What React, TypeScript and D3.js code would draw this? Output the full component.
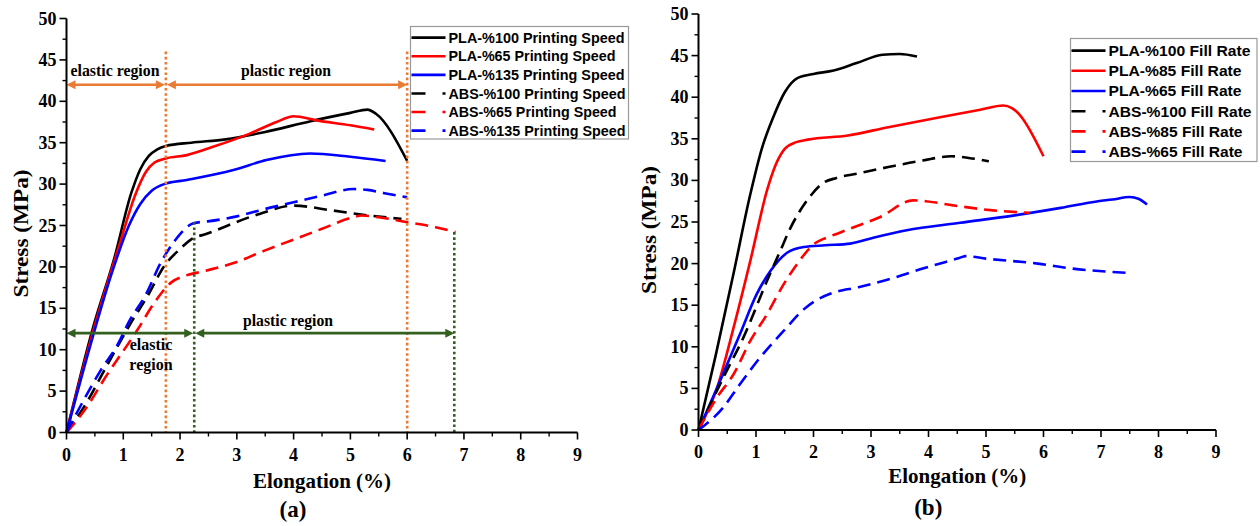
import React from "react";
import * as d3 from "d3";

// ---------- data ----------
const X_TICKS = [0, 1, 2, 3, 4, 5, 6, 7, 8, 9];
const Y_TICKS = [0, 5, 10, 15, 20, 25, 30, 35, 40, 45, 50];

const SPEED_LABELS = [
  "PLA-%100 Printing Speed",
  "PLA-%65 Printing Speed",
  "PLA-%135 Printing Speed",
  "ABS-%100 Printing Speed",
  "ABS-%65 Printing Speed",
  "ABS-%135 Printing Speed",
];
const FILL_LABELS = [
  "PLA-%100 Fill Rate",
  "PLA-%85 Fill Rate",
  "PLA-%65 Fill Rate",
  "ABS-%100 Fill Rate",
  "ABS-%85 Fill Rate",
  "ABS-%65 Fill Rate",
];
const SERIES_COLORS = ["#000000", "#ff0000", "#0000ff", "#000000", "#ff0000", "#0000ff"];
const SERIES_DASHED = [false, false, false, true, true, true];

// (a) printing speed
const PLA100_PS_X = [0, 0.46, 0.84, 1.14, 1.3, 1.45, 1.6, 1.75, 2.2, 2.8, 3.5, 4.3, 5.0, 5.3, 5.45, 6.0];
const PLA100_PS_Y = [0, 12.5, 21, 28.9, 31.8, 33.4, 34.2, 34.6, 35.0, 35.4, 36.3, 37.6, 38.6, 39.0, 38.5, 32.8];
const PLA65_PS_X = [0, 0.46, 0.96, 1.2, 1.4, 1.55, 1.75, 2.12, 2.58, 3.23, 3.7, 4.0, 4.4, 5.0, 5.42];
const PLA65_PS_Y = [0, 12, 23.3, 28.5, 31.5, 32.6, 33.1, 33.5, 34.5, 36.1, 37.5, 38.2, 37.7, 37.1, 36.6];
const PLA135_PS_X = [0, 0.46, 0.8, 1.1, 1.3, 1.5, 1.72, 2.12, 2.94, 3.52, 4.29, 5.0, 5.62];
const PLA135_PS_Y = [0, 11.5, 19.3, 25, 27.6, 29.2, 30, 30.5, 31.7, 32.9, 33.7, 33.3, 32.8];
const ABS100_PS_X = [0, 0.37, 0.61, 1.14, 1.43, 1.72, 1.99, 2.19, 2.47, 3.4, 3.99, 4.7, 5.34, 5.9];
const ABS100_PS_Y = [0, 3.8, 6.8, 13.3, 16.5, 20.1, 22.1, 23.3, 24.0, 26.4, 27.4, 26.8, 26.2, 25.8];
const ABS65_PS_X = [0, 0.37, 0.66, 1.25, 1.55, 1.84, 2.08, 2.43, 3.0, 3.5, 4.0, 4.5, 5.0, 5.2, 5.5, 6.0, 6.5, 6.85];
const ABS65_PS_Y = [0, 3.2, 6.4, 12.4, 15.7, 18.1, 18.9, 19.5, 20.6, 22.0, 23.3, 24.6, 25.9, 26.2, 26.0, 25.4, 24.8, 24.2];
const ABS135_PS_X = [0, 0.31, 0.61, 0.9, 1.11, 1.4, 1.66, 1.9, 2.25, 2.49, 3.0, 3.5, 4.0, 4.5, 5.05, 5.3, 5.6, 6.0];
const ABS135_PS_Y = [0, 4, 7.6, 10.6, 13.5, 16.7, 20.5, 23.1, 25.3, 25.5, 26.1, 27.0, 27.8, 28.6, 29.4, 29.3, 28.9, 28.4];

// (b) fill rate
const PLA100_FR_X = [0, 0.3, 0.6, 0.9, 1.1, 1.3, 1.5, 1.72, 2.0, 2.35, 2.75, 3.2, 3.5, 3.8];
const PLA100_FR_Y = [0, 9, 18.5, 28.3, 33.8, 37.6, 40.6, 42.3, 42.8, 43.2, 44.1, 45.1, 45.2, 44.9];
const PLA85_FR_X = [0, 0.32, 0.61, 0.9, 1.2, 1.35, 1.5, 1.7, 1.9, 2.6, 3.3, 4.2, 4.9, 5.3, 5.45, 6.0];
const PLA85_FR_Y = [0, 5, 12.3, 20.3, 29, 32, 33.8, 34.6, 34.9, 35.4, 36.4, 37.6, 38.5, 39.0, 38.7, 32.9];
const PLA65_FR_X = [0, 0.32, 0.72, 1.01, 1.25, 1.54, 1.83, 2.2, 2.64, 3.04, 3.62, 4.55, 5.5, 6.3, 6.95, 7.2, 7.5, 7.65, 7.8];
const PLA65_FR_Y = [0, 5, 11.5, 16.3, 19.1, 21.3, 22, 22.2, 22.4, 23.1, 24.0, 24.9, 25.8, 26.7, 27.5, 27.7, 28.0, 27.8, 27.1];
const ABS100_FR_X = [0, 0.2, 0.49, 0.78, 1.19, 1.42, 1.6, 1.9, 2.15, 2.4, 2.75, 3.3, 3.9, 4.4, 4.7, 5.05];
const ABS100_FR_Y = [0, 3, 7.1, 11.1, 17.9, 21.5, 24.3, 27.7, 29.6, 30.3, 30.8, 31.6, 32.4, 32.9, 32.7, 32.3];
const ABS85_FR_X = [0, 0.32, 0.61, 0.9, 1.19, 1.48, 1.71, 2.0, 2.3, 2.6, 3.16, 3.73, 3.95, 4.43, 5.12, 5.76];
const ABS85_FR_Y = [0, 3.9, 6.7, 10.7, 13.9, 17.5, 19.9, 22.3, 23.3, 24.1, 25.6, 27.6, 27.5, 27.0, 26.4, 26.1];
const ABS65_FR_X = [0, 0.43, 0.72, 1.07, 1.48, 1.83, 2.05, 2.3, 2.8, 3.4, 3.9, 4.5, 4.65, 5.0, 5.9, 6.5, 7.45];
const ABS65_FR_Y = [0, 2.7, 5.5, 8.7, 11.9, 14.5, 15.6, 16.4, 17.2, 18.3, 19.4, 20.6, 20.9, 20.6, 20.0, 19.4, 18.9];

// region annotations for (a): [elastic end, plastic end], arrow level
const PLA_REGION_X = [1.75, 6.0];
const PLA_REGION_LEVEL = 42;
const PLA_REGION_TOP = 46;
const ABS_REGION_X = [2.25, 6.83];
const ABS_REGION_TOP = [25.4, 24.2];
const ABS_REGION_LEVEL = 12;

const ORANGE = "#E97B35";
const GREEN = "#33601F";
const SERIF = "'Times New Roman', 'Liberation Serif', Times, serif";
const SANS = "Arial, 'Liberation Sans', Helvetica, sans-serif";

type Series = { xs: number[]; ys: number[] };

const SPEED_SERIES: Series[] = [
  { xs: PLA100_PS_X, ys: PLA100_PS_Y },
  { xs: PLA65_PS_X, ys: PLA65_PS_Y },
  { xs: PLA135_PS_X, ys: PLA135_PS_Y },
  { xs: ABS100_PS_X, ys: ABS100_PS_Y },
  { xs: ABS65_PS_X, ys: ABS65_PS_Y },
  { xs: ABS135_PS_X, ys: ABS135_PS_Y },
];
const FILL_SERIES: Series[] = [
  { xs: PLA100_FR_X, ys: PLA100_FR_Y },
  { xs: PLA85_FR_X, ys: PLA85_FR_Y },
  { xs: PLA65_FR_X, ys: PLA65_FR_Y },
  { xs: ABS100_FR_X, ys: ABS100_FR_Y },
  { xs: ABS85_FR_X, ys: ABS85_FR_Y },
  { xs: ABS65_FR_X, ys: ABS65_FR_Y },
];

type PanelProps = {
  x0: number;
  x1: number;
  y0: number;
  y1: number;
  series: Series[];
  labels: string[];
  legend: { x: number; y: number; w: number; h: number; row: number; font: number; textW: number[] };
  yTitleX: number;
  xTitleY: number;
  tag: string;
  tagY: number;
  children?: (x: d3.ScaleLinear<number, number>, y: d3.ScaleLinear<number, number>) => React.ReactNode;
};

function Panel(p: PanelProps) {
  const x = d3.scaleLinear().domain([0, 9]).range([p.x0, p.x1]);
  const y = d3.scaleLinear().domain([0, 50]).range([p.y0, p.y1]);
  const line = d3
    .line<[number, number]>()
    .x((d) => x(d[0]))
    .y((d) => y(d[1]))
    .curve(d3.curveMonotoneX);
  const minorX = d3.range(0.5, 9, 1);
  const minorY = d3.range(2.5, 50, 5);
  const midX = (p.x0 + p.x1) / 2;
  const midY = (p.y0 + p.y1) / 2;
  return (
    <g>
      {/* curves */}
      {p.series.map((s, i) => (
        <path
          key={i}
          d={line(s.xs.map((v, k) => [v, s.ys[k]] as [number, number])) || ""}
          fill="none"
          stroke={SERIES_COLORS[i]}
          strokeWidth={2.6}
          strokeDasharray={SERIES_DASHED[i] ? "13,7" : undefined}
          strokeLinejoin="round"
        />
      ))}
      {p.children && p.children(x, y)}
      {/* axes */}
      <line x1={x(0)} x2={x(9)} y1={y(0)} y2={y(0)} stroke="#000" strokeWidth={2} />
      <line x1={x(0)} x2={x(0)} y1={y(0)} y2={y(50)} stroke="#000" strokeWidth={2} />
      {X_TICKS.map((t) => (
        <g key={"xt" + t}>
          <line x1={x(t)} x2={x(t)} y1={y(0)} y2={y(0) + 7} stroke="#000" strokeWidth={1.6} />
          <text x={x(t)} y={y(0) + 28} textAnchor="middle" fontFamily={SERIF} fontWeight="bold" fontSize={18}>
            {t}
          </text>
        </g>
      ))}
      {minorX.map((t) => (
        <line key={"xm" + t} x1={x(t)} x2={x(t)} y1={y(0)} y2={y(0) + 4} stroke="#000" strokeWidth={1.4} />
      ))}
      {Y_TICKS.map((t) => (
        <g key={"yt" + t}>
          <line x1={x(0)} x2={x(0) - 7} y1={y(t)} y2={y(t)} stroke="#000" strokeWidth={1.6} />
          <text x={x(0) - 10} y={y(t) + 6} textAnchor="end" fontFamily={SERIF} fontWeight="bold" fontSize={18}>
            {t}
          </text>
        </g>
      ))}
      {minorY.map((t) => (
        <line key={"ym" + t} x1={x(0)} x2={x(0) - 4} y1={y(t)} y2={y(t)} stroke="#000" strokeWidth={1.4} />
      ))}
      {/* titles */}
      <text
        x={midX}
        y={p.xTitleY}
        textAnchor="middle"
        fontFamily={SERIF}
        fontWeight="bold"
        fontSize={21}
        textLength={138}
        lengthAdjust="spacingAndGlyphs"
      >
        Elongation (%)
      </text>
      <text
        transform={`translate(${p.yTitleX},${midY + 8}) rotate(-90)`}
        textAnchor="middle"
        fontFamily={SERIF}
        fontWeight="bold"
        fontSize={21}
        textLength={128}
        lengthAdjust="spacingAndGlyphs"
      >
        Stress (MPa)
      </text>
      <text x={midX - 29} y={p.tagY} textAnchor="middle" fontFamily={SERIF} fontWeight="bold" fontSize={23}>
        {p.tag}
      </text>
      {/* legend */}
      <rect
        x={p.legend.x}
        y={p.legend.y}
        width={p.legend.w}
        height={p.legend.h}
        fill="#fff"
        stroke="#999"
        strokeWidth={1.2}
      />
      {p.labels.map((lab, i) => {
        const cy = p.legend.y + p.legend.row * (i + 0.6);
        return (
          <g key={lab}>
            <line
              x1={p.legend.x + 1}
              x2={p.legend.x + 35}
              y1={cy}
              y2={cy}
              stroke={SERIES_COLORS[i]}
              strokeWidth={2.6}
              strokeDasharray={SERIES_DASHED[i] ? "14,17" : undefined}
            />
            <text
              x={p.legend.x + 38}
              y={cy + p.legend.font * 0.36}
              fontFamily={SANS}
              fontWeight="bold"
              fontSize={p.legend.font}
              textLength={p.legend.textW[i]}
              lengthAdjust="spacingAndGlyphs"
            >
              {lab}
            </text>
          </g>
        );
      })}
    </g>
  );
}

function Arrow({ xa, xb, yv, color }: { xa: number; xb: number; yv: number; color: string }) {
  const h = 9;
  const w = 4.5;
  return (
    <g>
      <line x1={xa + 4} x2={xb - 4} y1={yv} y2={yv} stroke={color} strokeWidth={2.6} />
      <path d={`M${xa},${yv} L${xa + h},${yv - w} L${xa + h},${yv + w} Z`} fill={color} />
      <path d={`M${xb},${yv} L${xb - h},${yv - w} L${xb - h},${yv + w} Z`} fill={color} />
    </g>
  );
}

export default function App() {
  return (
    <svg width={1260} height={526} style={{ position: "absolute", left: 0, top: 0, background: "#fff" }}>
      <rect x={0} y={0} width={1260} height={526} fill="#fff" />
      <Panel
        x0={66.5}
        x1={577.5}
        y0={432.5}
        y1={18.5}
        series={SPEED_SERIES}
        labels={SPEED_LABELS}
        legend={{ x: 410.5, y: 26.5, w: 218, h: 112.5, row: 18.6, font: 14, textW: [176, 167, 176, 177, 168, 177] }}
        yTitleX={28}
        xTitleY={488}
        tag="(a)"
        tagY={517}
      >
        {(x, y) => (
          <g>
            {PLA_REGION_X.map((v) => (
              <line
                key={"o" + v}
                x1={x(v)}
                x2={x(v)}
                y1={y(PLA_REGION_TOP)}
                y2={y(0)}
                stroke={ORANGE}
                strokeWidth={2.6}
                strokeDasharray="2.6,2.6"
              />
            ))}
            {ABS_REGION_X.map((v, i) => (
              <line
                key={"g" + v}
                x1={x(v)}
                x2={x(v)}
                y1={y(ABS_REGION_TOP[i])}
                y2={y(0)}
                stroke={GREEN}
                strokeWidth={2.6}
                strokeDasharray="2.6,2.6"
              />
            ))}
            <Arrow xa={x(0)} xb={x(PLA_REGION_X[0]) - 1} yv={y(PLA_REGION_LEVEL)} color={ORANGE} />
            <Arrow xa={x(PLA_REGION_X[0]) + 1} xb={x(PLA_REGION_X[1])} yv={y(PLA_REGION_LEVEL)} color={ORANGE} />
            <Arrow xa={x(0)} xb={x(ABS_REGION_X[0]) - 1} yv={y(ABS_REGION_LEVEL)} color={GREEN} />
            <Arrow xa={x(ABS_REGION_X[0]) + 1} xb={x(ABS_REGION_X[1])} yv={y(ABS_REGION_LEVEL)} color={GREEN} />
            <text x={115} y={76} textAnchor="middle" fontFamily={SERIF} fontWeight="bold" fontSize={16} textLength={89} lengthAdjust="spacingAndGlyphs">
              elastic region
            </text>
            <text x={286} y={76} textAnchor="middle" fontFamily={SERIF} fontWeight="bold" fontSize={16} textLength={90} lengthAdjust="spacingAndGlyphs">
              plastic region
            </text>
            <text x={288} y={326} textAnchor="middle" fontFamily={SERIF} fontWeight="bold" fontSize={16} textLength={90} lengthAdjust="spacingAndGlyphs">
              plastic region
            </text>
            <text x={151} y={350} textAnchor="middle" fontFamily={SERIF} fontWeight="bold" fontSize={16}>
              elastic
            </text>
            <text x={151} y={370} textAnchor="middle" fontFamily={SERIF} fontWeight="bold" fontSize={16}>
              region
            </text>
          </g>
        )}
      </Panel>
      <Panel
        x0={698.5}
        x1={1216}
        y0={430}
        y1={14}
        series={FILL_SERIES}
        labels={FILL_LABELS}
        legend={{ x: 1070.5, y: 38.5, w: 186.5, h: 123, row: 20.2, font: 15, textW: [142, 133, 133, 143, 134, 134] }}
        yTitleX={656}
        xTitleY={483}
        tag="(b)"
        tagY={515}
      />
    </svg>
  );
}
